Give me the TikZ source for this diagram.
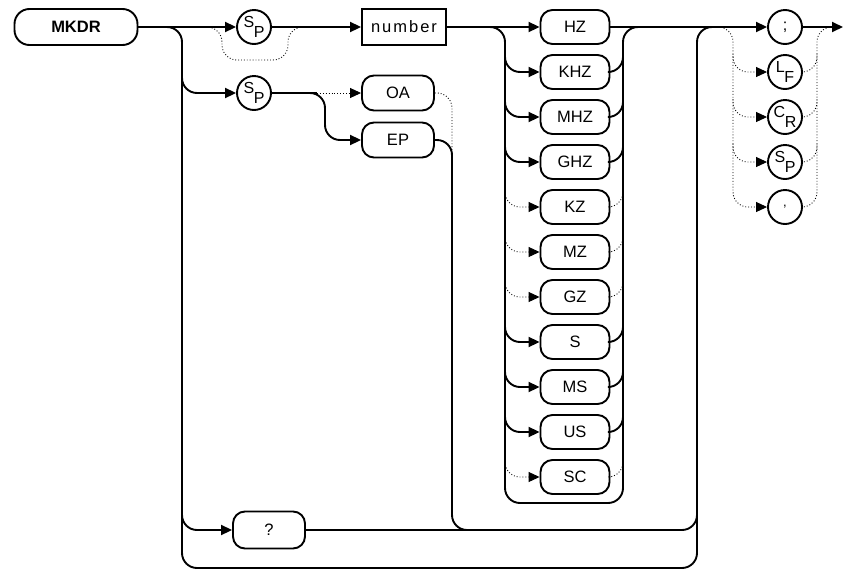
\documentclass[tikz,border=0pt]{standalone}
\usepackage{fontspec}
\setmainfont{Liberation Sans}
\usetikzlibrary{arrows.meta}
\newcommand\mysubl[2]{\raisebox{4.5pt}{#1}\kern-0.5pt\raisebox{-6pt}{#2}}
\begin{document}
\begin{tikzpicture}[x=1pt,y=-1pt,
  line/.style={line width=1.9pt},
  dotline/.style={line width=0.9pt, dash pattern=on 0.9pt off 2pt},
  tip/.style={-{Triangle[length=11pt,width=10pt]}},
  kw/.style={draw, line width=1.9pt, rounded corners=12pt, minimum width=69pt, minimum height=34pt, inner sep=0pt, font=\fontsize{16.5}{16.5}\selectfont, fill=white},
  circ/.style={draw, circle, line width=1.9pt, minimum size=34pt, inner sep=0pt, font=\fontsize{16}{16}\selectfont, fill=white},
  rc/.style={rounded corners=15pt}
]
\useasboundingbox (0,0) rectangle (844,571);

% nodes
\node[kw, minimum width=123pt, minimum height=36pt, rounded corners=15pt] (mkdr) at (76,27) {\textbf{MKDR}};
\node[circ] (sp1) at (254,27) {\mysubl{S}{P}};
\node[draw, line width=1.9pt, minimum width=84pt, minimum height=36pt, inner sep=0pt, font=\fontsize{16.5}{16.5}\selectfont] (num) at (404,27) {n\kern2pt u\kern2pt m\kern2pt b\kern2pt e\kern2pt r};
\node[circ] (sp2) at (254,93) {\mysubl{S}{P}};
\node[kw, minimum width=72pt, minimum height=35pt] (oa) at (398,93) {OA};
\node[kw, minimum width=72pt, minimum height=35pt] (ep) at (398,140) {EP};
\node[kw, minimum width=72pt, minimum height=37pt] (q) at (269,530) {?};
\foreach \t [count=\i] in {HZ,KHZ,MHZ,GHZ,KZ,MZ,GZ,S,MS,US,SC}
  \node[kw] (u\i) at (575,{27+45*(\i-1)}) {\t};
\node[circ] (t1) at (785,27) {;};
\node[circ] (t2) at (785,72) {\mysubl{L}{F}};
\node[circ] (t3) at (785,117) {\mysubl{C}{R}};
\node[circ] (t4) at (785,162) {\mysubl{S}{P}};
\node[circ, font=\fontsize{13}{13}\selectfont] (t5) at (785,207) {\raisebox{2pt}{,}};

% coordinates
\coordinate (b0) at (167,27);
\coordinate (b1) at (182,75);
\coordinate (b2) at (182,512);
\coordinate (bl) at (182,568);
\coordinate (br) at (697,27);
\coordinate (b9) at (712,27);
\coordinate (d0) at (206,27);
\coordinate (d1) at (222,60);
\coordinate (d2) at (288,27);
\coordinate (d3) at (304,27);
\coordinate (j0) at (307,93);
\coordinate (j1) at (317,93);
\coordinate (epk) at (325,140);
\coordinate (oad) at (452,165);
\coordinate (epd) at (452,530);
\coordinate (epr) at (475,530);
\coordinate (qr) at (697,505);
\coordinate (lb0) at (490,27);
\coordinate (lbb) at (505,503);
\coordinate (rbt) at (623,27);
\coordinate (rb0) at (640,27);
\coordinate (tl0) at (718,27);
\coordinate (tlb) at (733,207);
\coordinate (trt) at (817,27);
\coordinate (tr0) at (832,27);
\coordinate (endp) at (843,27);

% main line
\draw[line,tip] (mkdr) -- (sp1);
\draw[line,tip] (sp1) -- (num);
\draw[dotline,rc] (d0) -| (d1) -| (d2) -- (d3);
\draw[line,tip] (num) -- (u1);
\draw[line,tip] (u1) -- (t1);
\draw[line,tip] (t1) -- (endp);

% left big bus and bottom bypass
\draw[line,rc] (b0) -| (bl) -| (br) -- (b9);
\draw[line,rc,tip] (b1) |- (sp2.west);
\draw[line,rc,tip] (b2) |- (q.west);

% Sp2 branch
\draw[line] (sp2) -- (j1);
\draw[dotline,tip] (j1) -- (oa);
\draw[line,rc,tip] (j0) -| (epk) -- (ep.west);
\draw[dotline,rc] (oa.east) -| (oad);
\draw[line,rc] (ep.east) -| (epd) -- (epr);
\draw[line,rc] (q.east) -| (qr);

% units buses
\draw[line,rc] (lb0) -| (lbb) -| (rbt) -- (rb0);
\foreach \i in {2,3,4,8,9,10} {
  \coordinate (ul\i) at (505,{27+45*(\i-1)-18});
  \coordinate (ur\i) at (623,{27+45*(\i-1)-18});
  \draw[line,rc,tip] (ul\i) |- (u\i.west);
  \draw[line,rc] (u\i.east) -| (ur\i);
}
\foreach \i in {5,6,7,11} {
  \coordinate (ul\i) at (505,{27+45*(\i-1)-18});
  \coordinate (ur\i) at (623,{27+45*(\i-1)-18});
  \draw[dotline,rc,tip] (ul\i) |- (u\i.west);
  \draw[dotline,rc] (u\i.east) -| (ur\i);
}

% terminator buses
\draw[dotline,rc,tip] (tl0) -| (tlb) -- (t5.west);
\draw[dotline,rc] (t5.east) -| (trt) -- (tr0);
\foreach \i in {2,3,4} {
  \coordinate (tl\i) at (733,{27+45*(\i-1)-18});
  \coordinate (tr\i) at (817,{27+45*(\i-1)-18});
  \draw[dotline,rc,tip] (tl\i) |- (t\i.west);
  \draw[dotline,rc] (t\i.east) -| (tr\i);
}
\end{tikzpicture}
\end{document}
